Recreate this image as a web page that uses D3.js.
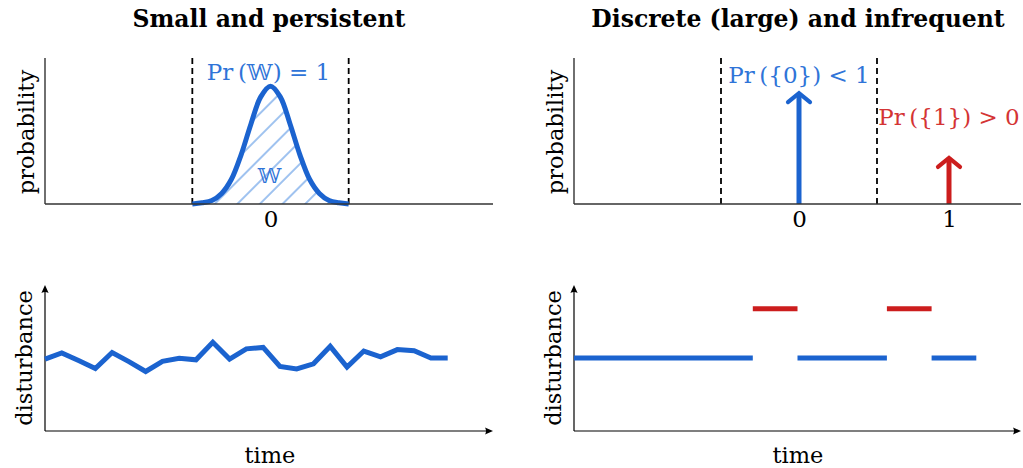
<!DOCTYPE html>
<html>
<head>
<meta charset="utf-8">
<script src="https://cdn.jsdelivr.net/npm/d3@7"></script>
<style>
  html, body { margin: 0; padding: 0; background: #fff; }
  svg { display: block; }
  text { font-family: "DejaVu Serif", "Liberation Serif", serif; }
</style>
</head>
<body>
<svg id="chart" width="1023" height="468"></svg>
<script>
// ---- data ----
const titles = ["Small and persistent", "Discrete (large) and infrequent"];

// truncated bell-shaped density on the window W
const densityX = [-0.52, -0.455, -0.39, -0.325, -0.26, -0.195, -0.13, -0.065, 0,
                  0.065, 0.13, 0.195, 0.26, 0.325, 0.39, 0.455, 0.52];
const densityY = [0.00, 0.01, 0.03, 0.09, 0.21, 0.42, 0.68, 0.91, 1.00,
                  0.91, 0.68, 0.42, 0.21, 0.09, 0.03, 0.01, 0.00];
const windowBounds = [-0.52, 0.52];

// point masses of the discrete disturbance
const atomValues = [0, 1];
const atomProbs = [0.95, 0.40];
const atomLabels = ["Pr\u2009({0}) < 1", "Pr\u2009({1}) > 0"];

const tickValuesLeft = [0];
const tickValuesRight = [0, 1];

// small persistent disturbance over time
const smallTime = d3.range(25);
const smallValues = [-0.03, 0.14, -0.07, -0.29, 0.15, -0.10, -0.37, -0.09, -0.01, -0.05,
                     0.43, -0.03, 0.25, 0.29, -0.23, -0.30, -0.16, 0.32, -0.25, 0.19,
                     0.03, 0.23, 0.20, 0.00, 0.00];

// large infrequent disturbance: level held over [start, end)
const jumpStarts = [0, 4, 5, 7, 8];
const jumpEnds   = [4, 5, 7, 8, 9];
const jumpLevels = [0, 1.35, 0, 1.35, 0];
const jumpKinds  = [0, 1, 0, 1, 0];   // 0 = nominal, 1 = jump

// ---- styles ----
const BLUE = "#1b63cf";
const BLUE_TEXT = "#2f74d8";
const RED = "#cc1d1d";
const RED_TEXT = "#d43434";
const AXIS = "#333";
const FS = 23;      // label font size
const FS_AX = 22.5; // axis title font size

const svg = d3.select("#chart");

// hatch pattern for the W region
const defs = svg.append("defs");
const pat = defs.append("pattern")
  .attr("id", "hatch")
  .attr("patternUnits", "userSpaceOnUse")
  .attr("width", 16).attr("height", 16)
  .attr("patternTransform", "rotate(-45)");
pat.append("line")
  .attr("x1", 0).attr("y1", 8).attr("x2", 16).attr("y2", 8)
  .attr("stroke", "#3f86e0").attr("stroke-width", 1);

// ---- scales ----
const xTL = d3.scaleLinear().domain([-1.5, 1.48]).range([45, 493]);
const xTR = d3.scaleLinear().domain([-1.5, 1.48]).range([574, 1021]);
const yTop = d3.scaleLinear().domain([0, 1.24]).range([204, 58]);

const tBL = d3.scaleLinear().domain([0, 26.7]).range([45, 493]);
const tBR = d3.scaleLinear().domain([0, 10]).range([574, 1021]);
const yBot = d3.scaleLinear().domain([-2, 2]).range([431, 285]);

// ---- titles ----
svg.append("text").attr("x", 269).attr("y", 27).attr("text-anchor", "middle")
  .attr("font-weight", "bold").attr("font-size", 23.5).text(titles[0]);
svg.append("text").attr("x", 798).attr("y", 27).attr("text-anchor", "middle")
  .attr("font-weight", "bold").attr("font-size", 23.5).text(titles[1]);

function yLabel(x, yc, txt) {
  svg.append("text")
    .attr("transform", `translate(${x},${yc}) rotate(-90)`)
    .attr("text-anchor", "middle").attr("font-size", FS_AX).text(txt);
}

// ---- top-left: density on W ----
{
  const g = svg.append("g");
  const pts = densityX.map((x, i) => [x, densityY[i]]);
  const area = d3.area().x(d => xTL(d[0])).y0(yTop(0)).y1(d => yTop(d[1]))
    .curve(d3.curveCatmullRom);
  g.append("path").datum(pts).attr("d", area).attr("fill", "url(#hatch)");

  windowBounds.forEach(b => {
    g.append("line").attr("x1", xTL(b)).attr("x2", xTL(b))
      .attr("y1", yTop(0)).attr("y2", yTop.range()[1])
      .attr("stroke", "#000").attr("stroke-width", 1.8).attr("stroke-dasharray", "6,4");
  });

  const line = d3.line().x(d => xTL(d[0])).y(d => yTop(d[1])).curve(d3.curveCatmullRom);
  g.append("path").datum(pts).attr("d", line).attr("fill", "none")
    .attr("stroke", BLUE).attr("stroke-width", 5).attr("stroke-linecap", "butt");

  const axisX = d3.axisBottom(xTL).tickValues(tickValuesLeft).tickSize(0).tickPadding(7)
    .tickFormat(d3.format("d"));
  const ax = g.append("g").attr("transform", `translate(0,${yTop(0)})`).call(axisX);
  ax.select(".domain").remove();
  ax.selectAll("text").attr("font-size", FS).attr("fill", "#000")
    .attr("font-family", "DejaVu Serif");
  g.append("line").attr("x1", xTL.range()[0]).attr("x2", xTL.range()[1])
    .attr("y1", yTop(0)).attr("y2", yTop(0)).attr("stroke", AXIS).attr("stroke-width", 1.4);
  g.append("line").attr("x1", xTL.range()[0]).attr("x2", xTL.range()[0])
    .attr("y1", yTop.range()[0]).attr("y2", yTop.range()[1]).attr("stroke", AXIS).attr("stroke-width", 1.4);

  g.append("text").attr("x", xTL(0) - 2).attr("y", 80).attr("text-anchor", "middle")
    .attr("font-size", FS).attr("fill", BLUE_TEXT).text("Pr\u2009(\u{1D54E}) = 1");
  g.append("text").attr("x", xTL(0) - 1).attr("y", 183).attr("text-anchor", "middle")
    .attr("font-size", 21).attr("fill", BLUE_TEXT).text("\u{1D54E}");

  yLabel(34, 132, "probability");
}

// ---- top-right: point masses ----
{
  const g = svg.append("g");
  windowBounds.forEach(b => {
    g.append("line").attr("x1", xTR(b)).attr("x2", xTR(b))
      .attr("y1", yTop(0)).attr("y2", yTop.range()[1])
      .attr("stroke", "#000").attr("stroke-width", 1.8).attr("stroke-dasharray", "6,4");
  });

  atomValues.forEach((v, i) => {
    const col = i === 0 ? BLUE : RED;
    const x = xTR(v), y0 = yTop(0), y1 = yTop(atomProbs[i]);
    g.append("line").attr("x1", x).attr("x2", x).attr("y1", y0).attr("y2", y1 + 1)
      .attr("stroke", col).attr("stroke-width", 5);
    g.append("path")
      .attr("d", `M${x - 11},${y1 + 10} L${x},${y1 + 1} L${x + 11},${y1 + 10}`)
      .attr("fill", "none").attr("stroke", col).attr("stroke-width", 4.2)
      .attr("stroke-linejoin", "miter").attr("stroke-linecap", "round");
  });

  g.append("text").attr("x", xTR(0)).attr("y", 83).attr("text-anchor", "middle")
    .attr("font-size", FS).attr("fill", BLUE_TEXT).text(atomLabels[0]);
  g.append("text").attr("x", xTR(1)).attr("y", 125).attr("text-anchor", "middle")
    .attr("font-size", FS).attr("fill", RED_TEXT).text(atomLabels[1]);

  const axisX = d3.axisBottom(xTR).tickValues(tickValuesRight).tickSize(0).tickPadding(7)
    .tickFormat(d3.format("d"));
  const ax = g.append("g").attr("transform", `translate(0,${yTop(0)})`).call(axisX);
  ax.select(".domain").remove();
  ax.selectAll("text").attr("font-size", FS).attr("fill", "#000")
    .attr("font-family", "DejaVu Serif");
  g.append("line").attr("x1", xTR.range()[0]).attr("x2", xTR.range()[1])
    .attr("y1", yTop(0)).attr("y2", yTop(0)).attr("stroke", AXIS).attr("stroke-width", 1.4);
  g.append("line").attr("x1", xTR.range()[0]).attr("x2", xTR.range()[0])
    .attr("y1", yTop.range()[0]).attr("y2", yTop.range()[1]).attr("stroke", AXIS).attr("stroke-width", 1.4);

  yLabel(563, 132, "probability");
}

// arrowed axes for the time panels
function arrowAxes(g, xs, ys) {
  const x0 = xs.range()[0], x1 = xs.range()[1];
  const yb = ys.range()[0], yt = ys.range()[1];
  g.append("line").attr("x1", x0).attr("x2", x1 - 3).attr("y1", yb).attr("y2", yb)
    .attr("stroke", "#000").attr("stroke-width", 1.2);
  g.append("line").attr("x1", x0).attr("x2", x0).attr("y1", yb).attr("y2", yt + 3)
    .attr("stroke", "#000").attr("stroke-width", 1.2);
  g.append("path")
    .attr("d", `M${x1},${yb} L${x1 - 8},${yb - 3.6} Q${x1 - 6},${yb} ${x1 - 8},${yb + 3.6} Z`)
    .attr("fill", "#000");
  g.append("path")
    .attr("d", `M${x0},${yt} L${x0 - 3.6},${yt + 8} Q${x0},${yt + 6} ${x0 + 3.6},${yt + 8} Z`)
    .attr("fill", "#000");
}

// ---- bottom-left: small persistent disturbance ----
{
  const g = svg.append("g");
  arrowAxes(g, tBL, yBot);
  const line = d3.line().x((d, i) => tBL(smallTime[i])).y(d => yBot(d));
  g.append("path").datum(smallValues).attr("d", line).attr("fill", "none")
    .attr("stroke", BLUE).attr("stroke-width", 5).attr("stroke-linejoin", "miter")
    .attr("stroke-miterlimit", 3);
  yLabel(32, 358, "disturbance");
  g.append("text").attr("x", 270).attr("y", 463).attr("text-anchor", "middle")
    .attr("font-size", FS_AX).text("time");
}

// ---- bottom-right: large infrequent disturbance ----
{
  const g = svg.append("g");
  arrowAxes(g, tBR, yBot);
  jumpStarts.forEach((s, i) => {
    g.append("line")
      .attr("x1", tBR(s)).attr("x2", tBR(jumpEnds[i]))
      .attr("y1", yBot(jumpLevels[i])).attr("y2", yBot(jumpLevels[i]))
      .attr("stroke", jumpKinds[i] ? RED : BLUE).attr("stroke-width", 5);
  });
  yLabel(561, 358, "disturbance");
  g.append("text").attr("x", 798).attr("y", 463).attr("text-anchor", "middle")
    .attr("font-size", FS_AX).text("time");
}
</script>
</body>
</html>
